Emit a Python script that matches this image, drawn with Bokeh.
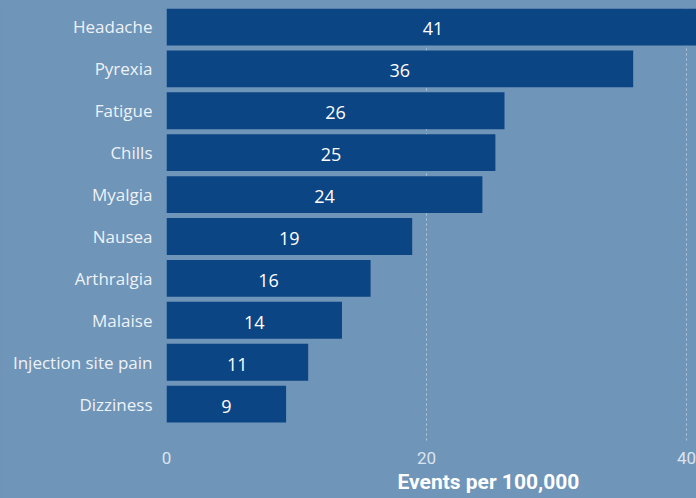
import numpy as np
from bokeh.plotting import figure
from bokeh.models import Range1d, FixedTicker, Title, ColumnDataSource, GlobalInlineStyleSheet
from bokeh.core.properties import value
from bokeh.embed import file_html
from bokeh.resources import INLINE

categories = ["Headache", "Pyrexia", "Fatigue", "Chills", "Myalgia", "Nausea",
              "Arthralgia", "Malaise", "Injection site pain", "Dizziness"]
events = [41.0, 35.9, 26.0, 25.3, 24.3, 18.9, 15.7, 13.5, 10.9, 9.2]
x_ticks = [0, 20, 40]
x_title = "Events per 100,000"

BG = "#6f95b9"
BAR = "#0c4584"

pos = list(range(len(categories)))
labels = [str(int(round(v))) for v in events]
src = ColumnDataSource(dict(y=pos, v=events, mid=[v / 2 for v in events], lab=labels))

p = figure(width=696, height=498, output_backend="svg", toolbar_location=None,
           x_range=Range1d(0, 40.77), y_range=Range1d(9.94, -0.44),
           min_border_left=166, min_border_right=0, min_border_top=8, min_border_bottom=55)
p.background_fill_color = BG
p.border_fill_color = BG
p.outline_line_color = None
p.stylesheets = [GlobalInlineStyleSheet(css=f"body{{background-color:{BG};}}")]

p.hbar(y="y", right="v", left=0, height=0.88, source=src, color=BAR, line_color=None)
p.text(x="mid", y="y", text="lab", source=src, text_align="center", text_baseline="middle",
       text_color="white", text_font=value("Open Sans"), text_font_size="18px",
       y_offset=2)

# x axis
p.xaxis.ticker = FixedTicker(ticks=x_ticks)
p.xaxis.axis_line_color = None
p.xaxis.major_tick_line_color = None
p.xaxis.minor_tick_line_color = None
p.xaxis.major_label_text_color = "#dbe4ee"
p.xaxis.major_label_text_font = "Roboto"
p.xaxis.major_label_text_font_size = "17px"
p.xaxis.major_label_standoff = 2

# y axis
p.yaxis.ticker = FixedTicker(ticks=pos)
p.yaxis.major_label_overrides = {i: c for i, c in zip(pos, categories)}
p.yaxis.axis_line_color = None
p.yaxis.major_tick_line_color = None
p.yaxis.minor_tick_line_color = None
p.yaxis.major_label_text_color = "#eef2f7"
p.yaxis.major_label_text_font = "Open Sans"
p.yaxis.major_label_text_font_size = "17px"
p.yaxis.major_label_standoff = 8

p.ygrid.grid_line_color = None
p.xgrid.grid_line_color = "#b8cadc"
p.xgrid.grid_line_dash = "2 3"
p.xgrid.grid_line_width = 1

p.add_layout(Title(text=x_title, align="left", offset=231, text_color="white",
                   text_font="Roboto", text_font_style="bold", text_font_size="21px",
                   standoff=2), "below")

open("out.html", "w").write(file_html(p, INLINE))
